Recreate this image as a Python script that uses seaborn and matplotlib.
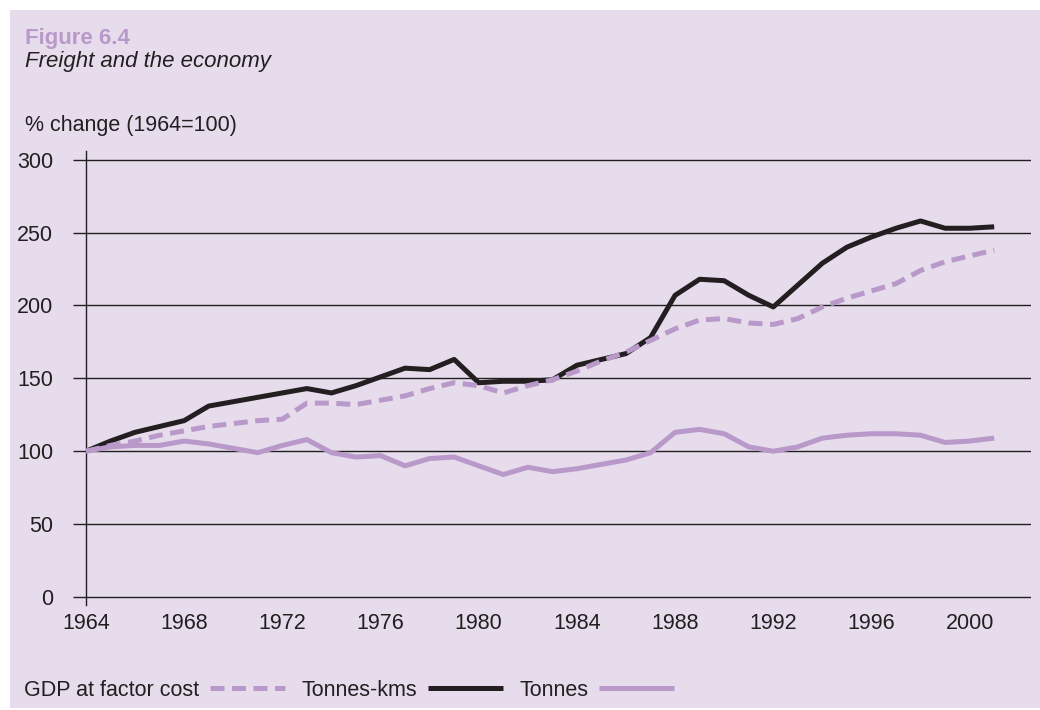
import pandas as pd
import matplotlib.pyplot as plt
import seaborn as sns
from matplotlib.lines import Line2D
from matplotlib.patches import Rectangle

# ----------------------------------------------------------------
# Data (index 1964 = 100)
# ----------------------------------------------------------------
years = list(range(1964, 2002))

gdp = [100, 104, 107, 111, 114, 117, 119, 121, 122, 133,
       133, 132, 135, 138, 143, 147, 145, 140, 145, 149,
       155, 162, 168, 176, 184, 190, 191, 188, 187, 191,
       199, 205, 210, 215, 224, 230, 234, 238]

tonnes_kms = [100, 107, 113, 117, 121, 131, 134, 137, 140, 143,
              140, 145, 151, 157, 156, 163, 147, 148, 148, 149,
              159, 163, 167, 178, 207, 218, 217, 207, 199, 214,
              229, 240, 247, 253, 258, 253, 253, 254]

tonnes = [100, 103, 104, 104, 107, 105, 102, 99, 104, 108,
          99, 96, 97, 90, 95, 96, 90, 84, 89, 86,
          88, 91, 94, 99, 113, 115, 112, 103, 100, 103,
          109, 111, 112, 112, 111, 106, 107, 109]

series_names = ["GDP at factor cost", "Tonnes-kms", "Tonnes"]
x_ticks = [1964, 1968, 1972, 1976, 1980, 1984, 1988, 1992, 1996, 2000]
y_ticks = [0, 50, 100, 150, 200, 250, 300]

df = pd.DataFrame({
    "Year": years * 3,
    "Index": gdp + tonnes_kms + tonnes,
    "Series": [series_names[0]] * len(years)
              + [series_names[1]] * len(years)
              + [series_names[2]] * len(years),
})

# ----------------------------------------------------------------
# Style
# ----------------------------------------------------------------
sns.set_style("white")
plt.rcParams["font.family"] = ["Liberation Sans", "DejaVu Sans"]
plt.rcParams["lines.solid_capstyle"] = "butt"
plt.rcParams["lines.dash_capstyle"] = "butt"

BG = "#e6dcec"
LILAC = "#b899c9"
INK = "#231f20"
FS = 15.5

colors = {"GDP at factor cost": LILAC, "Tonnes-kms": INK, "Tonnes": LILAC}
dashes = {"GDP at factor cost": (2.8, 1.5), "Tonnes-kms": "", "Tonnes": ""}

fig = plt.figure(figsize=(10.4, 7.1), dpi=100, facecolor="white")
fig.patches.append(Rectangle((10 / 1040, 2 / 710), 1, 698 / 710,
                             transform=fig.transFigure, facecolor=BG,
                             edgecolor="none", zorder=-10))

ax = fig.add_axes([86 / 1040, 105 / 710, 945 / 1040, 454 / 710])
ax.set_facecolor("none")

# black drawn first, lilac lines on top
sns.lineplot(data=df, x="Year", y="Index", hue="Series", style="Series",
             hue_order=["Tonnes-kms", "GDP at factor cost", "Tonnes"],
             style_order=["Tonnes-kms", "GDP at factor cost", "Tonnes"],
             palette=colors, dashes=dashes, linewidth=3.6,
             legend=False, ax=ax, zorder=3)

ax.set_xlim(1964, 2002.5)
ax.set_ylim(-5.5, 306)
ax.set_xticks(x_ticks)
ax.set_yticks(y_ticks)
ax.set_xlabel("")
ax.set_ylabel("")

ax.yaxis.grid(True, color=INK, linewidth=1.0, zorder=1)
ax.xaxis.grid(False)
ax.set_axisbelow(True)
for side in ["top", "right", "bottom"]:
    ax.spines[side].set_visible(False)
ax.spines["left"].set_color(INK)
ax.spines["left"].set_linewidth(1.0)

ax.tick_params(axis="y", length=9.6, width=1.0, color=INK, pad=14,
               labelsize=FS, labelcolor=INK, left=True)
ax.tick_params(axis="x", length=0, pad=6, labelsize=FS, labelcolor=INK,
               bottom=True)

# ----------------------------------------------------------------
# Titles
# ----------------------------------------------------------------
fig.text(25 / 1040, 1 - 44 / 710, "Figure 6.4", fontsize=16,
         fontweight="bold", color=LILAC, va="baseline", ha="left")
fig.text(25 / 1040, 1 - 67 / 710, "Freight and the economy", fontsize=16,
         style="italic", color=INK, va="baseline", ha="left")
fig.text(25 / 1040, 1 - 131 / 710, "% change (1964=100)", fontsize=FS,
         color=INK, va="baseline", ha="left")

# ----------------------------------------------------------------
# Legend: label before the line sample
# ----------------------------------------------------------------
handles = [
    Line2D([], [], color=LILAC, lw=3.6, dashes=(2.8, 1.5)),
    Line2D([], [], color=INK, lw=3.6),
    Line2D([], [], color=LILAC, lw=3.6),
]
fig.legend(handles, series_names, loc="center left",
           bbox_to_anchor=(24 / 1040, 1 - 690 / 710), ncol=3,
           frameon=False, markerfirst=False, fontsize=FS,
           handlelength=3.5, handletextpad=0.5, columnspacing=0.75,
           borderpad=0, borderaxespad=0, labelcolor=INK)

fig.savefig("out.png", dpi=100, facecolor="white")
plt.close(fig)
